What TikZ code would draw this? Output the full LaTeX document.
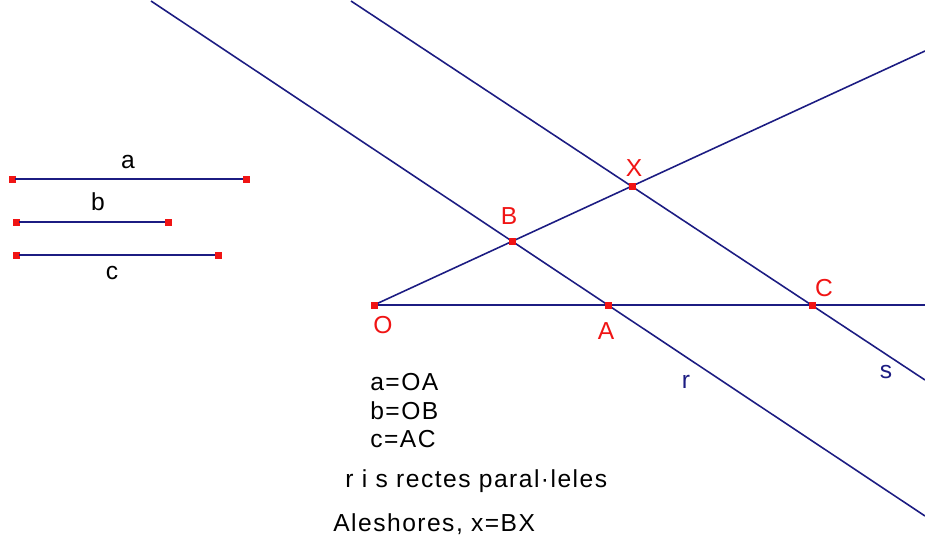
\documentclass[tikz,border=0pt]{standalone}
\usepackage{fontspec}
\setmainfont{Liberation Sans}[LetterSpace=6]
\usetikzlibrary{positioning}
\definecolor{ln}{RGB}{28,28,130}
\definecolor{pt}{RGB}{240,20,20}

\begin{document}
\begin{tikzpicture}[x=0.02cm, y=-0.02cm,
  ln/.style={draw=ln, line width=0.9pt},
  pnt/.style={rectangle, fill=pt, draw=pt, inner sep=0pt, minimum size=3.4pt},
  lbl/.style={text=pt, font=\fontsize{14}{16}\selectfont, inner sep=1pt},
  nm/.style={text=ln, font=\fontsize{14}{16}\selectfont, inner sep=1pt},
  tx/.style={font=\fontsize{14}{16}\selectfont, inner sep=0pt}]
\useasboundingbox (0,0) rectangle (925,542);
% segments a, b, c
\node[pnt] (a1) at (12,179) {};  \node[pnt] (a2) at (246,179) {};
\node[pnt] (b1) at (16,222) {};  \node[pnt] (b2) at (168,222) {};
\node[pnt] (c1) at (16,255) {};  \node[pnt] (c2) at (218,255) {};
\draw[ln] (a1) -- (a2); \draw[ln] (b1) -- (b2); \draw[ln] (c1) -- (c2);
\node[tx] at (128,162) {a};
\node[tx] at (98,202) {b};
\node[tx] at (112,273) {c};
% construction
\coordinate (rt) at (151,1);  \coordinate (re) at (925,516);
\coordinate (st) at (351,1);  \coordinate (se) at (925,380);
\coordinate (he) at (925,305); \coordinate (oe) at (925,51);
\draw[ln] (rt) -- (re);
\draw[ln] (st) -- (se);
\node[pnt] (O) at (374,305) {};
\node[pnt] (A) at (608,305) {};
\node[pnt] (C) at (812,305) {};
\node[pnt] (B) at (512,241) {};
\node[pnt] (X) at (632,186) {};
\draw[ln] (O.center) -- (he);
\draw[ln] (O.center) -- (oe);
\foreach \p in {O,A,C,B,X} \node[pnt] at (\p) {};
\node[lbl] at (383,325) {O};
\node[lbl] at (606,331) {A};
\node[lbl] at (824,288) {C};
\node[lbl] at (509,216) {B};
\node[lbl] at (634,168) {X};
\node[nm] at (686,382) {r};
\node[nm] at (886,372) {s};
% text
\node[tx, anchor=west] at (370,382) {a=OA};
\node[tx, anchor=west] at (370,411) {b=OB};
\node[tx, anchor=west] at (370,439) {c=AC};
\node[tx, anchor=west] at (345,481) {r i s rectes paral·leles};
\node[tx, anchor=west] at (333,524) {Aleshores, x=BX};
\end{tikzpicture}
\end{document}
